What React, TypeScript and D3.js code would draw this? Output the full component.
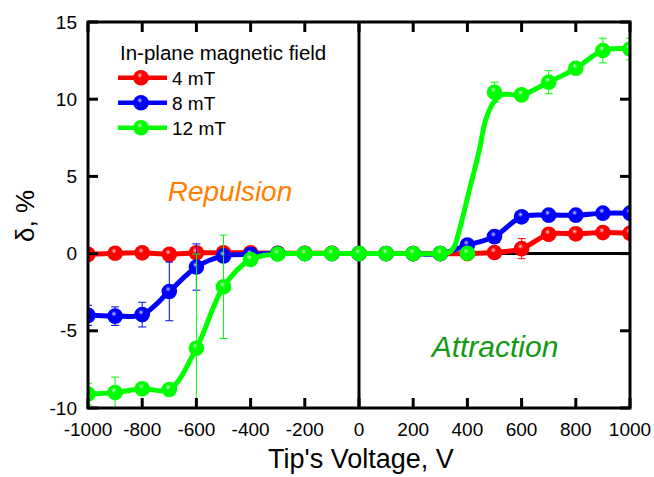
import React from "react";
import * as d3 from "d3";

const VOLTAGES = [-1000, -900, -800, -700, -600, -500, -400, -300, -200, -100, 0, 100, 200, 300, 400, 500, 600, 700, 800, 900, 1000];

const RED = [-0.05, 0.02, 0.05, -0.05, 0.05, 0.05, 0.05, 0.02, 0.02, 0.02, 0, 0, 0, 0, 0, 0.07, 0.32, 1.25, 1.28, 1.36, 1.32];
const RED_ERR = [0.1, 0.1, 0.1, 0.1, 0.1, 0.1, 0.05, 0.05, 0.05, 0.05, 0.05, 0.05, 0.05, 0.05, 0.05, 0.1, 0.65, 0.1, 0.1, 0.1, 0.1];

const BLUE = [-4.0, -4.05, -3.95, -2.45, -0.87, -0.15, -0.05, 0, 0, 0, 0, 0, 0, 0, 0.55, 1.1, 2.38, 2.49, 2.49, 2.62, 2.62];
const BLUE_ERR = [0.65, 0.6, 0.8, 1.9, 1.5, 0.1, 0.05, 0.05, 0.05, 0.05, 0.05, 0.05, 0.05, 0.05, 0.1, 0.1, 0.1, 0.1, 0.1, 0.1, 0.1];

const GREEN = [-9.1, -9.0, -8.75, -8.8, -6.13, -2.15, -0.38, -0.03, 0, 0, 0, 0, 0, 0, 0.02, 10.45, 10.28, 11.1, 12.0, 13.15, 13.25];
const GREEN_ERR = [0.7, 1.0, 0.3, 0.2, 6.1, 3.35, 0.1, 0.05, 0.05, 0.05, 0.05, 0.05, 0.05, 0.05, 0.05, 0.65, 0.2, 0.75, 0.2, 0.8, 0.7];

// Fitted green curve in the transition region
const GREEN_FIT_V = [330, 350, 370, 407, 444, 468, 499, 530];
const GREEN_FIT_D = [0.05, 0.4, 1.5, 4.1, 6.7, 8.7, 9.85, 10.3];

const X_TICKS = [-1000, -800, -600, -400, -200, 0, 200, 400, 600, 800, 1000];
const Y_TICKS = [-10, -5, 0, 5, 10, 15];

const SERIES_LABELS = ["4 mT", "8 mT", "12 mT"];
const SERIES_COLORS = ["#ff0000", "#0000ff", "#00ff00"];

const FONT = "'Liberation Sans', Arial, sans-serif";

function Sphere({ cx, cy, r, color }: { cx: number; cy: number; r: number; color: string }) {
  return (
    <g>
      <circle cx={cx} cy={cy} r={r} fill={color} />
      <circle cx={cx - r * 0.15} cy={cy - r * 0.3} r={r * 0.36} fill="url(#hl)" />
    </g>
  );
}

export default function App() {
  const W = 654, H = 477;
  const left = 88, right = 630, top = 22, bottom = 408;
  const x = d3.scaleLinear().domain([-1000, 1000]).range([left, right]);
  const y = d3.scaleLinear().domain([-10, 15]).range([bottom, top]);

  const line = d3
    .line<[number, number]>()
    .x((d) => x(d[0]))
    .y((d) => y(d[1]))
    .curve(d3.curveCatmullRom.alpha(0.5));

  const redPts: [number, number][] = VOLTAGES.map((v, i) => [v, RED[i]]);
  const bluePts: [number, number][] = VOLTAGES.map((v, i) => [v, BLUE[i]]);
  const greenPts: [number, number][] = VOLTAGES.map((v, i) => [v, GREEN[i]]);
  const greenLine: [number, number][] = [
    ...greenPts.filter((d) => d[0] <= 300),
    ...GREEN_FIT_V.map((v, i) => [v, GREEN_FIT_D[i]] as [number, number]),
    ...greenPts.filter((d) => d[0] >= 600),
  ];

  const series = [
    { pts: redPts, lineData: redPts, err: RED_ERR, color: SERIES_COLORS[0], id: "r" },
    { pts: bluePts, lineData: bluePts, err: BLUE_ERR, color: SERIES_COLORS[1], id: "b" },
    { pts: greenPts, lineData: greenLine, err: GREEN_ERR, color: SERIES_COLORS[2], id: "g" },
  ];

  const R = 7.8;
  const tickLen = 10;

  return (
    <svg
      width={W}
      height={H}
      style={{ position: "absolute", left: 0, top: 0, background: "#fff" }}
      fontFamily={FONT}
    >
      <defs>
        <radialGradient id="hl" cx="0.5" cy="0.5" r="0.5">
          <stop offset="0" stopColor="#ffffff" stopOpacity="0.85" />
          <stop offset="0.45" stopColor="#ffffff" stopOpacity="0.4" />
          <stop offset="1" stopColor="#ffffff" stopOpacity="0" />
        </radialGradient>
        <clipPath id="plotClip">
          <rect x={left} y={top} width={right - left} height={bottom - top} />
        </clipPath>
      </defs>
      <rect x={0} y={0} width={W} height={H} fill="#fff" />

      {/* zero lines */}
      <line x1={x(0)} x2={x(0)} y1={top} y2={bottom} stroke="#000" strokeWidth={3} />
      <line x1={x(0)} x2={right} y1={y(0)} y2={y(0)} stroke="#000" strokeWidth={3} />

      {/* data */}
      <g clipPath="url(#plotClip)">
        {series.map((s) => (
          <g key={s.id}>
            {s.pts.map((d, i) => {
              const e = s.err[i];
              if (e < 0.15) return null;
              const cx = x(d[0]);
              return (
                <g key={i} stroke={s.color} strokeWidth={1}>
                  <line x1={cx} x2={cx} y1={y(d[1] - e)} y2={y(d[1] + e)} />
                  <line x1={cx - 4} x2={cx + 4} y1={y(d[1] - e)} y2={y(d[1] - e)} />
                  <line x1={cx - 4} x2={cx + 4} y1={y(d[1] + e)} y2={y(d[1] + e)} />
                </g>
              );
            })}
            <path d={line(s.lineData) || ""} fill="none" stroke={s.color} strokeWidth={5} strokeLinejoin="round" />
            {s.pts.map((d, i) => (
              <Sphere key={i} cx={x(d[0])} cy={y(d[1])} r={R} color={s.color} />
            ))}
          </g>
        ))}
      </g>

      {/* frame */}
      <rect x={left} y={top} width={right - left} height={bottom - top} fill="none" stroke="#000" strokeWidth={3} />

      {/* x ticks */}
      {X_TICKS.map((t) => (
        <g key={"x" + t}>
          <line x1={x(t)} x2={x(t)} y1={bottom} y2={bottom - tickLen} stroke="#000" strokeWidth={3} />
          <line x1={x(t)} x2={x(t)} y1={top} y2={top + tickLen} stroke="#000" strokeWidth={3} />
          <text x={x(t)} y={436} textAnchor="middle" fontSize={19} fill="#000">
            {t}
          </text>
        </g>
      ))}
      {/* y ticks */}
      {Y_TICKS.map((t) => (
        <g key={"y" + t}>
          <line x1={left} x2={left + tickLen} y1={y(t)} y2={y(t)} stroke="#000" strokeWidth={3} />
          <line x1={right} x2={right - tickLen} y1={y(t)} y2={y(t)} stroke="#000" strokeWidth={3} />
          <text x={77} y={y(t)} dy="0.35em" textAnchor="end" fontSize={19} fill="#000">
            {t}
          </text>
        </g>
      ))}

      {/* axis titles */}
      <text x={361} y={468} textAnchor="middle" fontSize={27} fill="#000">
        Tip's Voltage, V
      </text>
      <text transform="translate(34,216) rotate(-90)" textAnchor="middle" fontSize={26} fill="#000">
        δ, %
      </text>

      {/* annotations */}
      <text x={230} y={201} textAnchor="middle" fontSize={28} fontStyle="italic" fill="#ff8000">
        Repulsion
      </text>
      <text x={495} y={357} textAnchor="middle" fontSize={30} fontStyle="italic" fill="#139a13">
        Attraction
      </text>

      {/* legend */}
      <text x={120} y={60} fontSize={20.5} fill="#000">
        In-plane magnetic field
      </text>
      {SERIES_LABELS.map((lab, i) => {
        const ly = 77.7 + i * 25;
        return (
          <g key={lab}>
            <line x1={118} x2={167} y1={ly} y2={ly} stroke={series[i].color} strokeWidth={4.5} />
            <Sphere cx={141} cy={ly} r={R} color={series[i].color} />
            <text x={172} y={ly} dy="0.36em" fontSize={19} fill="#000">
              {lab}
            </text>
          </g>
        );
      })}
    </svg>
  );
}
